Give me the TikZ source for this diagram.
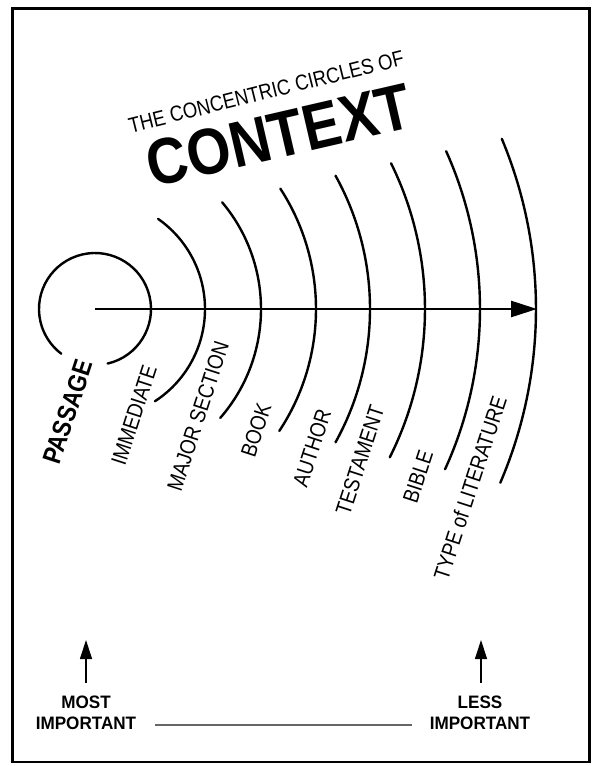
\documentclass[tikz,border=0pt]{standalone}
\usepackage{fontspec}
\usepackage{graphicx}
\setmainfont{Liberation Sans}
\usetikzlibrary{arrows.meta}
\newcommand{\cond}[1]{\scalebox{0.86}[1]{#1}}
\tikzset{
  ring/.style={line width=2.4pt, line cap=round},
  lbl/.style={inner sep=0pt, font=\fontsize{22}{24}\selectfont, rotate=72},
  imp/.style={inner sep=0pt, align=center, font=\bfseries\fontsize{18}{21}\selectfont},
  uparrow/.style={line width=1.2pt, -{Triangle[length=19pt,width=12pt]}}
}
\begin{document}
\begin{tikzpicture}[x=1pt,y=1pt]
\useasboundingbox (0,0) rectangle (592,-766);
\draw[line width=2.6pt] (12.5,-8.5) rectangle (589.5,-762);
% centre of the rings
\coordinate (c) at (95,-309);
\coordinate (tip) at (537,-309);
% rings
\draw[ring] (c) ++(-77:56) arc[start angle=-77, end angle=233, radius=56];
\draw[ring] (c) ++(-57:110) arc[start angle=-57, end angle=55, radius=110];
\draw[ring] (c) ++(-41:166) arc[start angle=-41, end angle=40, radius=166];
\draw[ring] (c) ++(-33.5:221) arc[start angle=-33.5, end angle=33, radius=221];
\draw[ring] (c) ++(-29:275) arc[start angle=-29, end angle=29, radius=275];
\draw[ring] (c) ++(-26.7:330) arc[start angle=-26.7, end angle=26.2, radius=330];
\draw[ring] (c) ++(-24.6:385) arc[start angle=-24.6, end angle=24.2, radius=385];
\draw[ring] (c) ++(-23.2:441) arc[start angle=-23.2, end angle=22.7, radius=441];
% main arrow
\draw[line width=2.6pt, -{Triangle[length=26pt,width=16pt]}] (c) -- (tip);
% title
\node[anchor=base, inner sep=0pt, rotate=14, font=\fontsize{21.6}{23}\selectfont] (t1) at (268,-99) {\cond{THE CONCENTRIC CIRCLES OF}};
\node[anchor=base, inner sep=0pt, rotate=13, font=\bfseries\fontsize{65}{68}\selectfont] (t2) at (284,-157) {\scalebox{0.87}[1]{CONTEXT}};
% labels
\node[lbl, font=\bfseries\fontsize{26}{28}\selectfont] (passage) at (68,-412) {\cond{PASSAGE}};
\node[lbl] (immediate) at (134,-415) {\cond{IMMEDIATE}};
\node[lbl] (major) at (198,-416) {\cond{MAJOR SECTION}};
\node[lbl] (book) at (256,-430) {\cond{BOOK}};
\node[lbl] (author) at (312,-448) {\cond{AUTHOR}};
\node[lbl] (testament) at (360,-460) {\cond{TESTAMENT}};
\node[lbl] (bible) at (418,-477) {\cond{BIBLE}};
\node[lbl] (type) at (470,-488) {\cond{TYPE of LITERATURE}};
% bottom scale
\node[imp] (most) at (86,-713) {\scalebox{0.95}[1]{MOST}\\\scalebox{0.95}[1]{IMPORTANT}};
\node[imp] (less) at (480,-713) {\scalebox{0.95}[1]{LESS}\\\scalebox{0.95}[1]{IMPORTANT}};
\coordinate (mosttip) at (86,-640);
\coordinate (lesstip) at (481,-640);
\draw[uparrow] (86,-683) -- (mosttip);
\draw[uparrow] (481,-683) -- (lesstip);
\coordinate (la) at (155,-725);
\coordinate (lb) at (412,-725);
\draw[line width=1.2pt, black!60] (la) -- (lb);
\end{tikzpicture}
\end{document}
